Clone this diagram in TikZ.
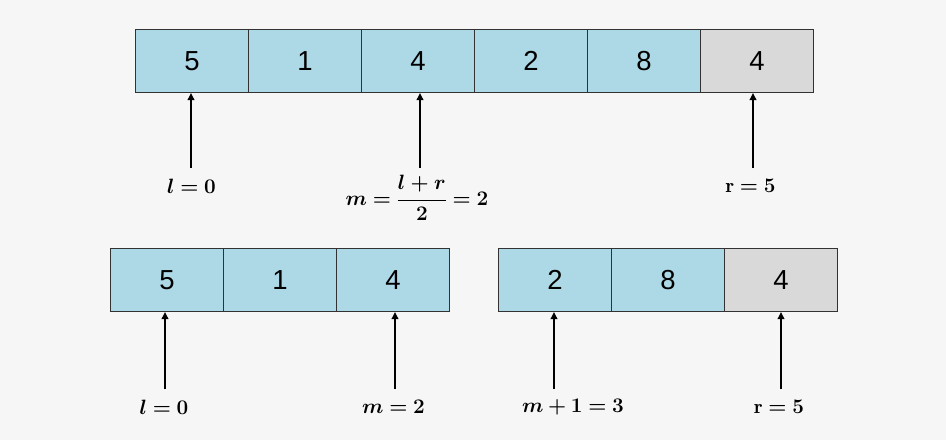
\documentclass[tikz,border=0pt]{standalone}
\usepackage{amsmath,bm}
\usepackage{fontspec}
\newfontfamily\cellfont{Liberation Sans}
\usetikzlibrary{arrows.meta}
\definecolor{bg}{RGB}{246,246,246}
\definecolor{cellblue}{RGB}{173,216,230}
\definecolor{cellgray}{RGB}{217,217,217}
\definecolor{edge}{RGB}{50,50,50}
\tikzset{
  cell/.style={draw=edge, line width=1pt, fill=cellblue, minimum width=113pt, minimum height=63pt, inner sep=0pt, anchor=north west, font=\cellfont\fontsize{27.5}{32}\selectfont},
  lastcell/.style={cell, fill=cellgray},
  ptr/.style={-{Triangle[length=7pt,width=6.5pt]}, line width=2.4pt, black},
  lab/.style={font=\fontsize{20}{24}\selectfont, inner sep=0pt}
}
\begin{document}
\begin{tikzpicture}[x=1pt,y=-1pt]
\fill[bg] (0,0) rectangle (946,440);
\useasboundingbox (0,0) rectangle (946,440);
% top row
\node[cell] (t0) at (135,29) {5};
\node[cell] (t1) at (248,29) {1};
\node[cell] (t2) at (361,29) {4};
\node[cell] (t3) at (474,29) {2};
\node[cell] (t4) at (587,29) {8};
\node[lastcell] (t5) at (700,29) {4};
% bottom left
\node[cell] (a0) at (110,248) {5};
\node[cell] (a1) at (223,248) {1};
\node[cell] (a2) at (336,248) {4};
% bottom right
\node[cell] (b0) at (498,248) {2};
\node[cell] (b1) at (611,248) {8};
\node[lastcell] (b2) at (724,248) {4};
% top labels
\node[lab] (tl) at (191.5,186) {$\bm{l=0}$};
\node[lab] (tm) at (417,198) {$\bm{m=\dfrac{l+r}{2}=2}$};
\node[lab] (tr) at (750.5,186) {$\mathbf{r}\bm{=5}$};
\coordinate (tla) at (191,168);
\coordinate (tma) at (420,168);
\coordinate (tra) at (753,168);
\draw[ptr] (tla) -- (tla |- t0.south);
\draw[ptr] (tma) -- (tma |- t2.south);
\draw[ptr] (tra) -- (tra |- t5.south);
% bottom labels
\node[lab] (bl) at (164,407) {$\bm{l=0}$};
\node[lab] (bm) at (393.5,407) {$\bm{m=2}$};
\node[lab] (bn) at (573,407) {$\bm{m+1=3}$};
\node[lab] (br) at (779,407) {$\mathbf{r}\bm{=5}$};
\coordinate (bla) at (165,389);
\coordinate (bma) at (395,389);
\coordinate (bna) at (554,389);
\coordinate (bra) at (781,389);
\draw[ptr] (bla) -- (bla |- a0.south);
\draw[ptr] (bma) -- (bma |- a2.south);
\draw[ptr] (bna) -- (bna |- b0.south);
\draw[ptr] (bra) -- (bra |- b2.south);
\end{tikzpicture}
\end{document}
